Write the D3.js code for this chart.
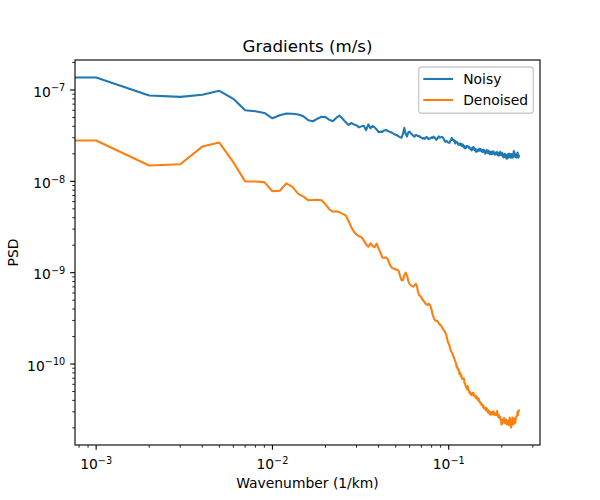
<!DOCTYPE html>
<html><head><meta charset="utf-8">
<script src="https://cdn.jsdelivr.net/npm/d3@7"></script>
<style>body{margin:0;background:#fff} svg{display:block} text{font-family:"DejaVu Sans",sans-serif;fill:#000}</style>
</head><body><svg id="chart" width="600" height="500"></svg>
<script>
const chartTitle = "Gradients (m/s)";
const xLabel = "Wavenumber (1/km)";
const yLabel = "PSD";
const seriesNames = ["Noisy", "Denoised"];
const seriesColors = ["#1f77b4", "#ff7f0e"];
const wavenumberStep = 0.001; // 1/km, samples k = 0, 0.001, ..., 0.25
const xTickValues = [1e-3, 1e-2, 1e-1];
const xTickExponents = ["\u22123", "\u22122", "\u22121"];
const yTickValues = [1e-10, 1e-9, 1e-8, 1e-7];
const yTickExponents = ["\u221210", "\u22129", "\u22128", "\u22127"];

const noisy = [
1.37e-7,1.37e-7,8.7e-8,8.4e-8,8.85e-8,9.8e-8,8.0e-8,6.0e-8,5.86e-8,5.6e-8,
4.9e-8,5.3e-8,5.52e-8,5.5e-8,5.4e-8,5.15e-8,4.67e-8,4.55e-8,4.85e-8,5.1e-8,
5.05e-8,4.72e-8,4.55e-8,4.95e-8,5.25e-8,4.85e-8,4.45e-8,4.15e-8,4.35e-8,4.2e-8,
4.1e-8,3.9e-8,4.0e-8,4.05e-8,3.63e-8,4.2e-8,3.8e-8,4.05e-8,3.9e-8,3.7e-8,
3.45e-8,3.5e-8,3.48e-8,3.6e-8,3.65e-8,3.58e-8,3.5e-8,3.45e-8,3.38e-8,3.3e-8,
3.24e-8,3.2e-8,3.1e-8,3.05e-8,3.0e-8,3.3e-8,3.85e-8,3.3e-8,3.1e-8,3.45e-8,
3.5e-8,3.35e-8,3.25e-8,3.15e-8,3.08e-8,3.22e-8,3.2e-8,3.12e-8,3.14e-8,3.04e-8,
3.02e-8,2.94e-8,2.98e-8,2.92e-8,3.03e-8,3.06e-8,2.95e-8,2.9e-8,2.95e-8,2.97e-8,
3.03e-8,2.98e-8,3.08e-8,3.03e-8,2.93e-8,2.85e-8,2.92e-8,3.04e-8,3.1e-8,3.0e-8,
3.03e-8,3.07e-8,3.05e-8,2.98e-8,2.88e-8,2.74e-8,2.71e-8,2.77e-8,2.73e-8,2.67e-8,
2.64e-8,2.64e-8,2.78e-8,2.82e-8,2.99e-8,2.84e-8,2.87e-8,2.76e-8,2.8e-8,2.6e-8,
2.72e-8,2.66e-8,2.68e-8,2.54e-8,2.51e-8,2.51e-8,2.6e-8,2.49e-8,2.56e-8,2.43e-8,
2.54e-8,2.4e-8,2.46e-8,2.3e-8,2.32e-8,2.31e-8,2.44e-8,2.4e-8,2.43e-8,2.38e-8,
2.4e-8,2.3e-8,2.32e-8,2.25e-8,2.28e-8,2.18e-8,2.31e-8,2.27e-8,2.38e-8,2.23e-8,
2.31e-8,2.17e-8,2.26e-8,2.11e-8,2.18e-8,2.12e-8,2.22e-8,2.15e-8,2.24e-8,2.17e-8,
2.27e-8,2.2e-8,2.25e-8,2.14e-8,2.17e-8,2.1e-8,2.21e-8,2.13e-8,2.22e-8,2.09e-8,
2.15e-8,2.01e-8,2.13e-8,2.06e-8,2.2e-8,2.08e-8,2.17e-8,2.04e-8,2.16e-8,2.03e-8,
2.12e-8,1.99e-8,2.1e-8,1.98e-8,2.11e-8,1.98e-8,2.07e-8,2.0e-8,2.13e-8,2.04e-8,
2.11e-8,2.0e-8,2.04e-8,1.95e-8,2.03e-8,1.98e-8,2.08e-8,2.01e-8,2.09e-8,1.96e-8,
2.04e-8,1.91e-8,2.03e-8,1.92e-8,2.06e-8,1.96e-8,2.1e-8,1.95e-8,2.06e-8,1.94e-8,
2.05e-8,1.92e-8,2.03e-8,1.87e-8,1.96e-8,1.83e-8,1.98e-8,1.89e-8,2.0e-8,1.86e-8,
1.96e-8,1.82e-8,1.93e-8,1.77e-8,1.88e-8,1.78e-8,1.95e-8,1.88e-8,2.0e-8,1.83e-8,
1.94e-8,1.85e-8,2.0e-8,1.86e-8,1.93e-8,1.81e-8,1.95e-8,1.84e-8,1.99e-8,1.87e-8,
1.98e-8,1.82e-8,1.99e-8,1.95e-8,2.15e-8,2.04e-8,2.08e-8,1.87e-8,1.91e-8,1.85e-8,
1.95e-8,1.94e-8,1.97e-8,1.82e-8,1.93e-8,1.92e-8,2.07e-8,1.91e-8,1.96e-8,1.82e-8,1.9e-8
];

const denoised = [
2.8e-8,2.8e-8,1.49e-8,1.54e-8,2.4e-8,2.66e-8,1.62e-8,1.0e-8,9.95e-9,9.8e-9,
7.8e-9,7.9e-9,9.5e-9,8.7e-9,7.3e-9,6.8e-9,6.2e-9,6.25e-9,6.3e-9,6.2e-9,
5.6e-9,4.95e-9,4.65e-9,4.7e-9,4.6e-9,4.4e-9,4.25e-9,3.7e-9,3.15e-9,2.8e-9,
2.62e-9,2.5e-9,2.45e-9,2.25e-9,2.04e-9,1.92e-9,2.1e-9,1.96e-9,1.9e-9,2.08e-9,
1.85e-9,1.66e-9,1.47e-9,1.46e-9,1.47e-9,1.42e-9,1.27e-9,1.16e-9,1.12e-9,1.11e-9,
1.08e-9,1.08e-9,1.05e-9,9.2e-10,8.3e-10,8.3e-10,9.35e-10,1.0e-9,9.35e-10,8.1e-10,
7.5e-10,7.26e-10,7.14e-10,7.03e-10,7.26e-10,7.57e-10,7.14e-10,6.15e-10,5.65e-10,5.56e-10,
5.33e-10,5.1e-10,4.9e-10,4.77e-10,4.58e-10,4.47e-10,4.43e-10,4.58e-10,4.47e-10,4.25e-10,
3.9e-10,3.5e-10,3.28e-10,3.08e-10,3.0e-10,2.96e-10,2.98e-10,2.9e-10,2.78e-10,2.7e-10,
2.67e-10,2.6e-10,2.5e-10,2.4e-10,2.34e-10,2.28e-10,2.17e-10,2.06e-10,1.89e-10,1.74e-10,
1.67e-10,1.6e-10,1.48e-10,1.38e-10,1.35e-10,1.3e-10,1.24e-10,1.18e-10,1.12e-10,1.07e-10,
1.02e-10,9.2e-11,9.3e-11,8.6e-11,8.7e-11,7.8e-11,8.05e-11,7.4e-11,7.55e-11,6.9e-11,
6.95e-11,6.9e-11,6.95e-11,6.1e-11,6.05e-11,5.62e-11,5.63e-11,5.26e-11,5.76e-11,5.35e-11,
5.15e-11,4.85e-11,4.93e-11,4.65e-11,4.69e-11,4.57e-11,4.82e-11,4.62e-11,4.86e-11,4.53e-11,
4.6e-11,4.39e-11,4.46e-11,4.21e-11,4.4e-11,4.18e-11,4.22e-11,3.98e-11,4.19e-11,3.91e-11,
3.9e-11,3.72e-11,3.78e-11,3.58e-11,3.64e-11,3.52e-11,3.57e-11,3.36e-11,3.44e-11,3.25e-11,
3.33e-11,3.24e-11,3.3e-11,3.1e-11,3.28e-11,3.08e-11,3.14e-11,2.95e-11,3.11e-11,2.92e-11,
3.01e-11,2.82e-11,2.98e-11,2.79e-11,2.96e-11,2.87e-11,2.91e-11,2.82e-11,3.03e-11,2.84e-11,
3.01e-11,2.79e-11,2.89e-11,2.77e-11,2.84e-11,2.75e-11,2.87e-11,2.87e-11,3.06e-11,2.77e-11,
2.82e-11,2.63e-11,2.79e-11,2.59e-11,2.68e-11,2.59e-11,2.64e-11,2.42e-11,2.43e-11,2.18e-11,
2.24e-11,2.21e-11,2.47e-11,2.37e-11,2.45e-11,2.35e-11,2.56e-11,2.29e-11,2.35e-11,2.25e-11,
2.47e-11,2.42e-11,2.45e-11,2.21e-11,2.39e-11,2.18e-11,2.39e-11,2.31e-11,2.35e-11,2.15e-11,
2.43e-11,2.42e-11,2.6e-11,2.37e-11,2.35e-11,2.1e-11,2.02e-11,2.13e-11,2.39e-11,2.42e-11,
2.6e-11,2.37e-11,2.43e-11,2.18e-11,2.27e-11,2.25e-11,2.51e-11,2.5e-11,2.56e-11,2.29e-11,
2.6e-11,2.59e-11,2.66e-11,2.68e-11,2.73e-11,2.75e-11,3.01e-11,2.77e-11,3.06e-11,2.98e-11,3.1e-11
];

const series = [noisy, denoised].map((vals, s) => ({
  name: seriesNames[s], color: seriesColors[s],
  points: vals.map((v, i) => ({k: i * wavenumberStep, v}))
}));

const svg = d3.select("#chart");
const L = 75, R = 540, T = 60, B = 445;
const pt = 100 / 72;

// log domains with matplotlib-style 5% margins (positive data only)
function logDomain(vals) {
  const e = d3.extent(vals.filter(v => v > 0)).map(Math.log10);
  const m = (e[1] - e[0]) * 0.05;
  return [Math.pow(10, e[0] - m), Math.pow(10, e[1] + m)];
}
const allK = series[0].points.map(d => d.k);
const allV = noisy.concat(denoised);
const x = d3.scaleLog().domain(logDomain(allK)).range([L, R]);
const y = d3.scaleLog().domain(logDomain(allV)).range([B, T]);

svg.append("rect").attr("width", 600).attr("height", 500).attr("fill", "#fff");

svg.append("defs").append("clipPath").attr("id", "clip")
  .append("rect").attr("x", L).attr("y", T).attr("width", R - L).attr("height", B - T);

const line = d3.line()
  .x(d => d.k > 0 ? x(d.k) : L - 300)
  .y(d => y(d.v));

const g = svg.append("g").attr("clip-path", "url(#clip)");
series.forEach(s => {
  g.append("path").attr("d", line(s.points)).attr("fill", "none")
    .attr("stroke", s.color).attr("stroke-width", 1.5 * pt)
    .attr("stroke-linejoin", "round").attr("stroke-linecap", "square");
});

function minorTicks(scale) {
  const [a, b] = scale.domain();
  const out = [];
  for (let d = Math.floor(Math.log10(a)); d <= Math.ceil(Math.log10(b)); d++) {
    for (let m = 2; m <= 9; m++) {
      const v = m * Math.pow(10, d);
      if (v >= a && v <= b) out.push(v);
    }
  }
  return out;
}

const tickG = svg.append("g").attr("stroke", "#000");
xTickValues.forEach(v => tickG.append("line").attr("x1", x(v)).attr("x2", x(v)).attr("y1", B).attr("y2", B + 3.5 * pt).attr("stroke-width", 0.8 * pt));
minorTicks(x).forEach(v => tickG.append("line").attr("x1", x(v)).attr("x2", x(v)).attr("y1", B).attr("y2", B + 2 * pt).attr("stroke-width", 0.6 * pt));
yTickValues.forEach(v => tickG.append("line").attr("y1", y(v)).attr("y2", y(v)).attr("x1", L).attr("x2", L - 3.5 * pt).attr("stroke-width", 0.8 * pt));
minorTicks(y).forEach(v => tickG.append("line").attr("y1", y(v)).attr("y2", y(v)).attr("x1", L).attr("x2", L - 2 * pt).attr("stroke-width", 0.6 * pt));

const fs = 10 * pt;
xTickValues.forEach((v, i) => {
  const t = svg.append("text").attr("x", x(v)).attr("y", 469.3).attr("text-anchor", "middle").attr("font-size", fs);
  t.append("tspan").text("10");
  t.append("tspan").attr("dy", -5.3).attr("font-size", fs * 0.7).text(xTickExponents[i]);
});
yTickValues.forEach((v, i) => {
  const t = svg.append("text").attr("x", L - 7 * pt).attr("y", y(v) + 6.6).attr("text-anchor", "end").attr("font-size", fs);
  t.append("tspan").text("10");
  t.append("tspan").attr("dy", -5.3).attr("font-size", fs * 0.7).text(yTickExponents[i]);
});

// spines
svg.append("rect").attr("x", L).attr("y", T).attr("width", R - L).attr("height", B - T)
  .attr("fill", "none").attr("stroke", "#000").attr("stroke-width", 0.8 * pt);

svg.append("text").attr("x", (L + R) / 2).attr("y", T - 6 * pt).attr("text-anchor", "middle")
  .attr("font-size", 12 * pt).text(chartTitle);
svg.append("text").attr("x", (L + R) / 2).attr("y", 488).attr("text-anchor", "middle")
  .attr("font-size", fs).text(xLabel);
svg.append("text").attr("transform", `translate(18,${(T + B) / 2}) rotate(-90)`).attr("text-anchor", "middle")
  .attr("font-size", fs).text(yLabel);

// legend
const lg = svg.append("g");
lg.append("rect").attr("x", 418.7).attr("y", 67).attr("width", 114.6).attr("height", 46.3)
  .attr("rx", 2.8).attr("fill", "#fff").attr("fill-opacity", 0.8)
  .attr("stroke", "#cccccc").attr("stroke-width", 1 * pt);
series.forEach((s, i) => {
  const cy = 79 + i * 21;
  lg.append("line").attr("x1", 424.3).attr("x2", 452.1).attr("y1", cy).attr("y2", cy)
    .attr("stroke", s.color).attr("stroke-width", 1.5 * pt).attr("stroke-linecap", "square");
  lg.append("text").attr("x", 463.2).attr("y", cy + 5).attr("font-size", fs).text(s.name);
});
</script></body></html>
